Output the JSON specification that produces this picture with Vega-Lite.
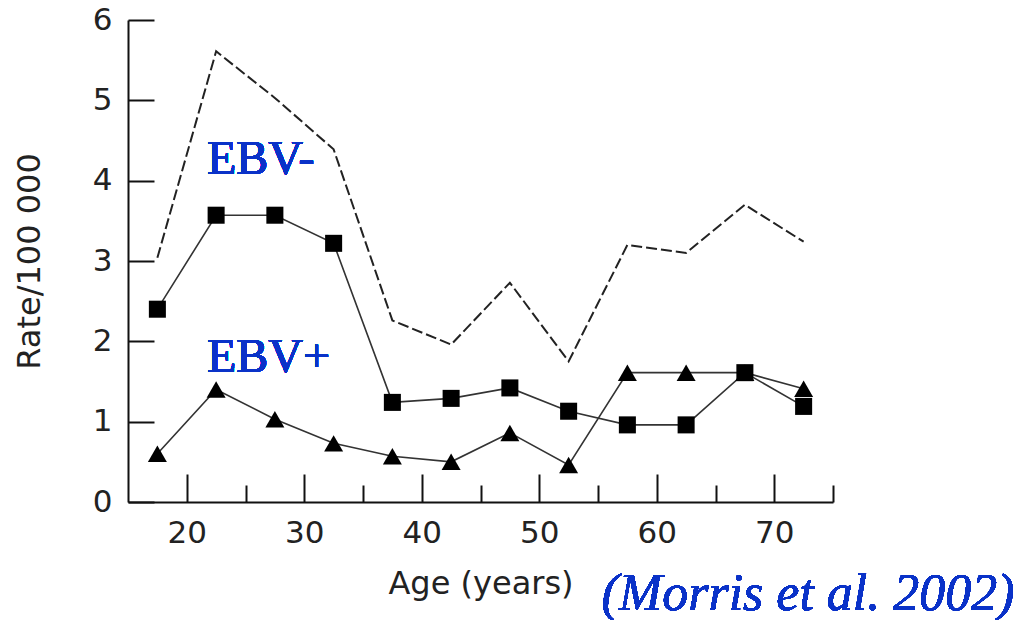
{
  "$schema": "https://vega.github.io/schema/vega-lite/v6.json",
  "width": 705,
  "height": 482,
  "autosize": {"type": "none"},
  "padding": {"left": 128, "top": 20, "right": 203, "bottom": 118},
  "background": "white",
  "config": {
    "view": {"stroke": null},
    "axis": {
      "grid": false,
      "domainColor": "#111",
      "domainWidth": 2,
      "tickColor": "#111",
      "tickWidth": 2,
      "labelFont": "DejaVu Sans",
      "labelFontSize": 31,
      "labelColor": "#222",
      "titleFont": "DejaVu Sans",
      "titleFontSize": 32,
      "titleFontWeight": "normal",
      "titleColor": "#222"
    }
  },
  "data": {
    "values": [
      {"age": 17.5, "rate": 2.40, "series": "EBV-"},
      {"age": 22.5, "rate": 3.57, "series": "EBV-"},
      {"age": 27.5, "rate": 3.57, "series": "EBV-"},
      {"age": 32.5, "rate": 3.22, "series": "EBV-"},
      {"age": 37.5, "rate": 1.24, "series": "EBV-"},
      {"age": 42.5, "rate": 1.29, "series": "EBV-"},
      {"age": 47.5, "rate": 1.42, "series": "EBV-"},
      {"age": 52.5, "rate": 1.13, "series": "EBV-"},
      {"age": 57.5, "rate": 0.96, "series": "EBV-"},
      {"age": 62.5, "rate": 0.96, "series": "EBV-"},
      {"age": 67.5, "rate": 1.61, "series": "EBV-"},
      {"age": 72.5, "rate": 1.19, "series": "EBV-"},
      {"age": 17.5, "rate": 0.60, "series": "EBV+"},
      {"age": 22.5, "rate": 1.40, "series": "EBV+"},
      {"age": 27.5, "rate": 1.03, "series": "EBV+"},
      {"age": 32.5, "rate": 0.73, "series": "EBV+"},
      {"age": 37.5, "rate": 0.57, "series": "EBV+"},
      {"age": 42.5, "rate": 0.50, "series": "EBV+"},
      {"age": 47.5, "rate": 0.86, "series": "EBV+"},
      {"age": 52.5, "rate": 0.46, "series": "EBV+"},
      {"age": 57.5, "rate": 1.61, "series": "EBV+"},
      {"age": 62.5, "rate": 1.61, "series": "EBV+"},
      {"age": 67.5, "rate": 1.61, "series": "EBV+"},
      {"age": 72.5, "rate": 1.41, "series": "EBV+"},
      {"age": 17.5, "rate": 3.04, "series": "All"},
      {"age": 22.5, "rate": 5.61, "series": "All"},
      {"age": 27.5, "rate": 5.03, "series": "All"},
      {"age": 32.5, "rate": 4.39, "series": "All"},
      {"age": 37.5, "rate": 2.26, "series": "All"},
      {"age": 42.5, "rate": 1.96, "series": "All"},
      {"age": 47.5, "rate": 2.73, "series": "All"},
      {"age": 52.5, "rate": 1.75, "series": "All"},
      {"age": 57.5, "rate": 3.20, "series": "All"},
      {"age": 62.5, "rate": 3.10, "series": "All"},
      {"age": 67.5, "rate": 3.70, "series": "All"},
      {"age": 72.5, "rate": 3.24, "series": "All"}
    ]
  },
  "encoding": {
    "x": {
      "field": "age",
      "type": "quantitative",
      "scale": {"domain": [15, 75], "nice": false, "zero": false},
      "axis": {
        "title": "Age (years)",
        "values": [20, 25, 30, 35, 40, 45, 50, 55, 60, 65, 70, 75],
        "labelExpr": "datum.value % 10 === 0 ? datum.label : ''",
        "tickSize": {"condition": {"test": "datum.value % 10 === 0", "value": -28}, "value": -17},
        "labelPadding": 44,
        "titlePadding": 20
      }
    },
    "y": {
      "field": "rate",
      "type": "quantitative",
      "scale": {"domain": [0, 6], "nice": false},
      "axis": {
        "title": "Rate/100 000",
        "values": [0, 1, 2, 3, 4, 5, 6],
        "tickSize": -26,
        "labelPadding": 42,
        "titlePadding": 46
      }
    }
  },
  "layer": [
    {
      "transform": [{"filter": "datum.series === 'All'"}],
      "mark": {"type": "line", "color": "#222", "strokeWidth": 2, "strokeDash": [11, 4]}
    },
    {
      "transform": [{"filter": "datum.series !== 'All'"}],
      "mark": {"type": "line", "color": "#333", "strokeWidth": 1.6},
      "encoding": {"detail": {"field": "series"}}
    },
    {
      "transform": [{"filter": "datum.series === 'EBV-'"}],
      "mark": {"type": "point", "shape": "square", "filled": true, "color": "#000", "opacity": 1, "size": 290}
    },
    {
      "transform": [{"filter": "datum.series === 'EBV+'"}],
      "mark": {"type": "point", "shape": "triangle-up", "filled": true, "color": "#000", "opacity": 1, "size": 360}
    },
    {
      "mark": {"type": "text", "font": "Liberation Serif", "fontWeight": "normal", "fontSize": 48, "color": "#0A32C8", "align": "left", "baseline": "alphabetic", "text": "EBV-"},
      "encoding": {"x": {"datum": 21.72}, "y": {"datum": 4.08}}
    },
    {
      "mark": {"type": "text", "font": "Liberation Serif", "fontWeight": "normal", "fontSize": 48, "color": "#0A32C8", "align": "left", "baseline": "alphabetic", "text": "EBV+"},
      "encoding": {"x": {"datum": 21.72}, "y": {"datum": 1.62}}
    },
    {
      "mark": {"type": "text", "font": "Liberation Serif", "fontWeight": "normal", "fontStyle": "italic", "fontSize": 52, "color": "#0A32C8", "align": "left", "baseline": "alphabetic", "text": "(Morris et al. 2002)"},
      "encoding": {"x": {"datum": 55.3}, "y": {"datum": -1.34}}
    }
  ]
}
